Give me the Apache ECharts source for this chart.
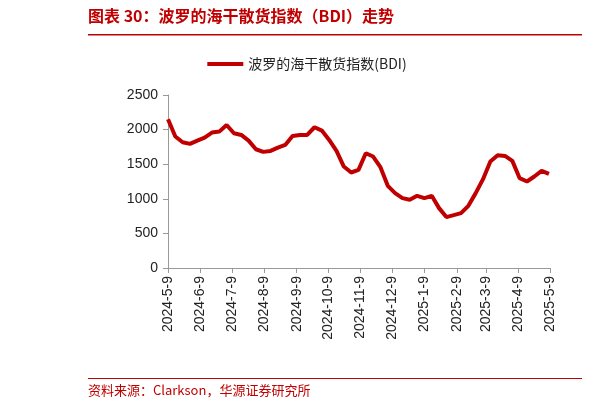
<!DOCTYPE html>
<html><head><meta charset="utf-8">
<script src="https://cdn.jsdelivr.net/npm/echarts@6/dist/echarts.min.js"></script>
<style>html,body{margin:0;background:#fff}#c{width:614px;height:413px}</style>
</head><body><div id="c"></div>
<script>
// weekly BDI readings, starting 2024-5-9
const bdiWeekly = [2150,1900,1817,1793,1841,1885,1957,1971,2067,1947,1923,1841,1716,1678,1692,1740,1779,1909,1923,1923,2034,1986,1851,1692,1466,1380,1418,1659,1611,1457,1188,1082,1010,986,1043,1010,1043,865,736,764,793,899,1082,1284,1538,1630,1620,1548,1298,1250,1322,1404,1361];
const yTicks = [0, 500, 1000, 1500, 2000, 2500];

const fmt = d => d.getFullYear() + '-' + (d.getMonth() + 1) + '-' + d.getDate();
const days = [];
for (let i = 0; i <= 365; i++) days.push(fmt(new Date(2024, 4, 9 + i)));
const seriesData = days.map(() => null);
bdiWeekly.forEach((v, k) => { seriesData[k * 7] = v; });
const isNinth = (i, s) => s.endsWith('-9');

const chart = echarts.init(document.getElementById('c'));
chart.setOption({
  animation: false,
  textStyle: { fontFamily: 'Noto Sans CJK SC' },
  grid: { left: 168, right: 64, top: 95, bottom: 145 },
  legend: {
    top: 52, left: 'center',
    itemWidth: 36, itemHeight: 4,
    textStyle: { fontSize: 14, color: '#222' },
    data: [{ name: '波罗的海干散货指数(BDI)', icon: 'rect' }]
  },
  xAxis: {
    type: 'category', data: days, boundaryGap: false,
    axisLine: { lineStyle: { color: '#999' } },
    axisTick: { interval: isNinth, length: 5, lineStyle: { color: '#999' } },
    axisLabel: { interval: isNinth, rotate: 90, fontSize: 14, color: '#222', margin: 8, fontFamily: 'Liberation Sans' }
  },
  yAxis: {
    type: 'value', min: yTicks[0], max: yTicks[yTicks.length - 1], interval: 500,
    axisLine: { show: true, lineStyle: { color: '#999' } },
    axisTick: { show: true, length: 5, lineStyle: { color: '#999' } },
    splitLine: { show: false },
    axisLabel: { fontSize: 14, color: '#222', margin: 10, fontFamily: 'Liberation Sans', formatter: v => String(v) }
  },
  series: [{
    name: '波罗的海干散货指数(BDI)', type: 'line', data: seriesData,
    connectNulls: true, showSymbol: false, symbol: 'none',
    lineStyle: { color: '#c00000', width: 4 }, itemStyle: { color: '#c00000' }
  }],
  graphic: [
    { type: 'text', left: 88, top: 8, style: { text: '图表 30：波罗的海干散货指数（BDI）走势', fill: '#c00000', font: 'bold 16px "Noto Sans CJK SC"' } },
    { type: 'rect', shape: { x: 88, y: 34, width: 494, height: 1.5 }, style: { fill: '#c00000' } },
    { type: 'rect', shape: { x: 88, y: 378, width: 494, height: 1 }, style: { fill: '#c00000' } },
    { type: 'text', left: 88, top: 384, style: { text: '资料来源：Clarkson，华源证券研究所', fill: '#c00000', font: '13px "Noto Sans CJK SC"' } }
  ]
});
</script></body></html>
